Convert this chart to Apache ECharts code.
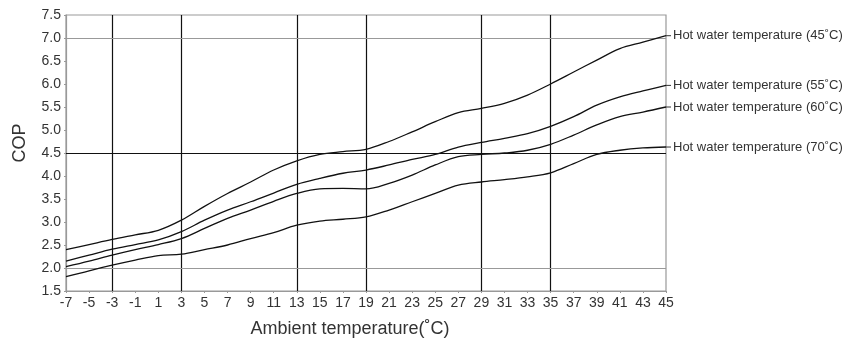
<!DOCTYPE html>
<html>
<head>
<meta charset="utf-8">
<script src="https://cdn.jsdelivr.net/npm/echarts@6/dist/echarts.min.js"></script>
<style>html,body{margin:0;padding:0;background:#fff}#c{width:847px;height:342px}</style>
</head>
<body>
<div id="c"></div>
<script>
const ambient = [-7,-5,-3,-1,1,3,5,7,9,11,13,15,17,19,21,23,25,27,29,31,33,35,37,39,41,43,45];
const cop45 = [2.40,2.51,2.62,2.72,2.82,3.04,3.34,3.62,3.87,4.13,4.33,4.47,4.53,4.58,4.75,4.96,5.18,5.38,5.47,5.58,5.76,6.00,6.26,6.52,6.77,6.91,7.05];
const cop55 = [2.15,2.28,2.41,2.51,2.61,2.79,3.04,3.26,3.44,3.63,3.82,3.95,4.06,4.13,4.24,4.36,4.47,4.63,4.73,4.82,4.92,5.08,5.29,5.54,5.72,5.85,5.97];
const cop60 = [2.03,2.15,2.28,2.40,2.51,2.64,2.86,3.08,3.26,3.45,3.62,3.72,3.73,3.72,3.84,4.02,4.24,4.42,4.47,4.50,4.56,4.69,4.89,5.11,5.29,5.39,5.50];
const cop70 = [1.81,1.94,2.06,2.17,2.27,2.30,2.40,2.50,2.64,2.77,2.93,3.02,3.06,3.11,3.26,3.44,3.62,3.80,3.87,3.92,3.98,4.07,4.27,4.47,4.56,4.61,4.63];
const seriesNames = ['Hot water temperature (45˚C)','Hot water temperature (55˚C)','Hot water temperature (60˚C)','Hot water temperature (70˚C)'];
const verticalRefs = [-3,3,13,19,29,35];
const horizontalRefs = [2.0,7.0];
const boldHorizontalRefs = [4.5];

const FONT = 'Liberation Sans, Arial, sans-serif';
const chart = echarts.init(document.getElementById('c'));
const allData = [cop45, cop55, cop60, cop70];
const series = allData.map((vals, i) => ({
  name: seriesNames[i],
  type: 'line',
  data: ambient.map((x, j) => [x, vals[j]]),
  smooth: 0.35,
  symbol: 'none',
  lineStyle: {color: '#111', width: 1.3},
  endLabel: {
    show: true, formatter: '{t|}{s|}' + seriesNames[i], color: '#333', fontSize: 13, fontFamily: FONT, distance: 0,
    rich: {
      t: {width: 5, height: 1, backgroundColor: '#333'},
      s: {width: 2, height: 1}
    }
  },
  z: 5
}));
series.push({
  type: 'line', data: [], silent: true,
  markLine: {
    silent: true, symbol: 'none', label: {show: false},
    lineStyle: {color: '#111', width: 1.2, type: 'solid'},
    data: verticalRefs.map(v => ({xAxis: v})).concat(boldHorizontalRefs.map(v => ({yAxis: v})))
  }
});
series.push({
  type: 'line', data: [], silent: true,
  markLine: {
    silent: true, symbol: 'none', label: {show: false},
    lineStyle: {color: '#999', width: 1.2, type: 'solid'},
    data: horizontalRefs.map(v => ({yAxis: v}))
  }
});
chart.setOption({
  animation: false,
  backgroundColor: '#fff',
  grid: {left: 66, right: 181, top: 15, bottom: 51, show: true, borderColor: '#999', borderWidth: 1.2, containLabel: false, outerBoundsMode: 'none'},
  xAxis: {
    type: 'value', min: -7, max: 45, interval: 2,
    name: 'Ambient temperature(˚C)', nameLocation: 'middle', nameGap: 29,
    nameTextStyle: {fontSize: 18, color: '#333', fontFamily: FONT, padding: [0, 32, 0, 0]},
    axisLine: {onZero: false, lineStyle: {color: '#999', width: 1.2}},
    axisTick: {show: true, length: 2, lineStyle: {color: '#999'}},
    axisLabel: {fontSize: 14, color: '#333', margin: 5, fontFamily: FONT},
    splitLine: {show: false}
  },
  yAxis: {
    type: 'value', min: 1.5, max: 7.5, interval: 0.5,
    name: 'COP', nameLocation: 'middle', nameGap: 37,
    nameTextStyle: {fontSize: 18, color: '#333', fontFamily: FONT, padding: [0, 0, 0, 20]},
    axisLine: {show: true, onZero: false, lineStyle: {color: '#999', width: 1.2}},
    axisTick: {show: true, length: 2, lineStyle: {color: '#999'}},
    axisLabel: {fontSize: 14, color: '#333', margin: 5, fontFamily: FONT, formatter: v => v.toFixed(1)},
    splitLine: {show: false}
  },
  series: series
});
</script>
</body>
</html>
